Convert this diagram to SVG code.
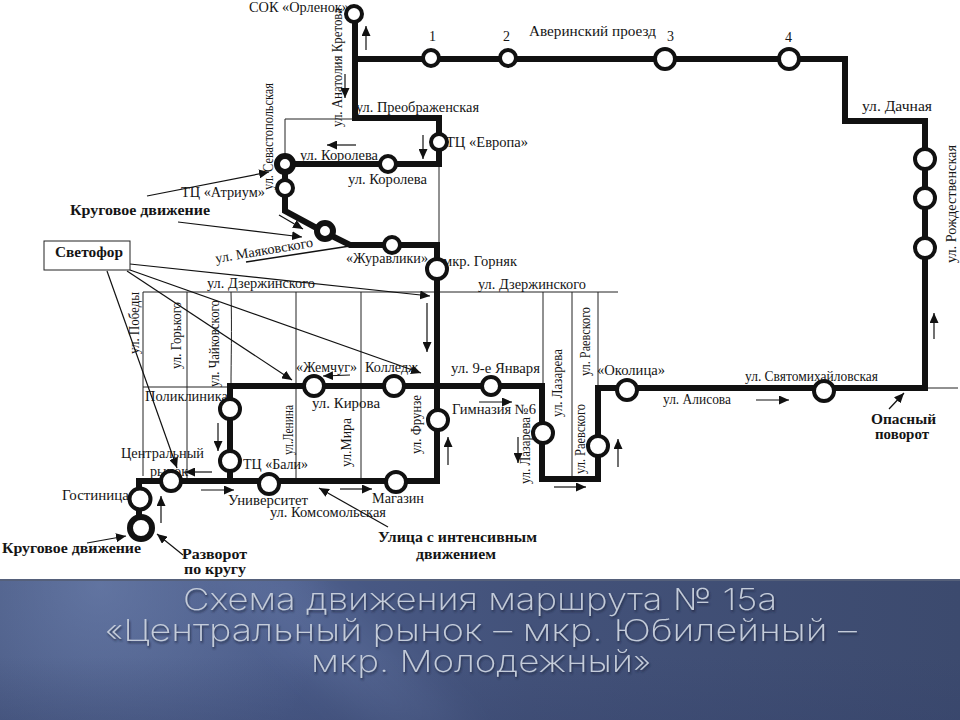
<svg xmlns="http://www.w3.org/2000/svg" width="960" height="720" viewBox="0 0 960 720">
<style>
text{font-family:"Liberation Serif","Noto Serif",serif;font-size:14px;fill:#151515}
.b{font-weight:bold;font-size:14.5px}
.route{fill:none;stroke:#111;stroke-width:6;stroke-linejoin:miter;stroke-linecap:butt}
.thin{fill:none;stroke:#222;stroke-width:1}
.arr{fill:none;stroke:#111;stroke-width:1.2;marker-end:url(#ah)}
.n{fill:#fff;stroke:#111;stroke-width:4}
.k{fill:#fff;stroke:#111;stroke-width:6}
.t{font-family:Inter,"Open Sans","Noto Sans",sans-serif;font-weight:200;font-size:30px;fill:#c4ccda;filter:url(#sh)}
</style>
<defs>
<marker id="ah" markerUnits="userSpaceOnUse" markerWidth="11" markerHeight="9" refX="10" refY="4.5" orient="auto"><path d="M0 0L10 4.5L0 9Z" fill="#111"/></marker>
<linearGradient id="bg" x1="0" y1="0" x2="1" y2="0"><stop offset="0" stop-color="#46567f"/><stop offset=".3" stop-color="#4a5b88"/><stop offset=".55" stop-color="#43527a"/><stop offset="1" stop-color="#3c4a6e"/></linearGradient>
<radialGradient id="gl" gradientUnits="userSpaceOnUse" cx="100" cy="585" r="230"><stop offset="0" stop-color="#7b90bf" stop-opacity=".5"/><stop offset="1" stop-color="#7b90bf" stop-opacity="0"/></radialGradient>
<linearGradient id="fade" x1="0" y1="0" x2="0" y2="1"><stop offset=".55" stop-color="#34416a" stop-opacity="0"/><stop offset="1" stop-color="#34416a" stop-opacity=".3"/></linearGradient>
<filter id="sh" x="-5%" y="-20%" width="110%" height="150%"><feDropShadow dx="1" dy="2" stdDeviation="1" flood-color="#1c2540" flood-opacity=".85"/></filter>
<filter id="bl" x="-50%" y="-50%" width="200%" height="200%"><feGaussianBlur stdDeviation="18"/></filter>
<clipPath id="cb"><rect y="579" width="960" height="141"/></clipPath>
</defs>
<rect width="960" height="720" fill="#fff"/>
<g id="band">
<rect y="579" width="960" height="141" fill="url(#bg)"/>
<rect y="579" width="960" height="141" fill="url(#gl)"/>
<g clip-path="url(#cb)"><path d="M200 560L300 560L480 740L380 740Z" fill="#7b90bf" opacity=".2" filter="url(#bl)"/></g>
<rect y="579" width="960" height="141" fill="url(#fade)"/>
<rect y="579" width="960" height="2" fill="#55607a"/>
<text class="t" x="183" y="610" textLength="594" lengthAdjust="spacingAndGlyphs">Схема движения маршрута № 15а</text>
<text class="t" x="105" y="641" textLength="752" lengthAdjust="spacingAndGlyphs">«Центральный рынок – мкр. Юбилейный –</text>
<text class="t" x="311" y="672" textLength="340" lengthAdjust="spacingAndGlyphs">мкр. Молодежный»</text>
</g>
<g id="streets">
<path class="thin" d="M285 160V119H355M439 164V245M143 292H618M143 292V476M187 292V481M231 292C232 330 231 360 231 386M296 292V481M361 292V481M143 387H228M543 292V386M572 292V479M598 292V388M925 388H958"/>
<path d="M246 262L350 246" fill="none" stroke="#111" stroke-width="1.5"/>
</g>
<g id="connectors">
<path class="route" d="M355 14V118H439V164H285V211L324 232L350 245H437V481H139V528"/>
<path class="route" d="M355 59H845V121H925V388H598V479H542V386H230V481"/>
<path class="arr" d="M366 50V26"/>
<path class="arr" d="M345 74V98"/>
<path class="arr" d="M356 145H327"/>
<path class="arr" d="M423 135V159"/>
<path class="arr" d="M147 196L269 172"/>
<path class="arr" d="M279 215L303 229"/>
<path class="arr" d="M178 222L302 237"/>
<path class="arr" d="M130 264L430 296"/>
<path class="arr" d="M127 271L292 380"/>
<path class="arr" d="M130 270L421 373"/>
<path class="arr" d="M107 271L177 468"/>
<path class="arr" d="M427 303V352"/>
<path class="arr" d="M350 375L323 376"/>
<path class="arr" d="M218 423V451"/>
<path class="arr" d="M212 472H185"/>
<path class="arr" d="M201 490H234"/>
<path class="arr" d="M340 489H372"/>
<path class="arr" d="M388 527L319 488"/>
<path class="arr" d="M448 465V437"/>
<path class="arr" d="M161 523V496"/>
<path class="arr" d="M87 543L126 536"/>
<path class="arr" d="M183 555L157 534"/>
<path class="arr" d="M479 402H512"/>
<path class="arr" d="M518 437V463"/>
<path class="arr" d="M554 487H586"/>
<path class="arr" d="M618 467V439"/>
<path class="arr" d="M756 400H789"/>
<path class="arr" d="M889 409L904 393"/>
<path class="arr" d="M934 339V313"/>
</g>
<g id="n-orlenok"><text x="249" y="12" textLength="100" lengthAdjust="spacingAndGlyphs">СОК «Орленок»</text><circle class="n" cx="354" cy="14" r="8"/></g>
<g id="n-1"><text x="429" y="41">1</text><circle class="n" cx="431" cy="58" r="8"/></g>
<g id="n-2"><text x="503" y="41">2</text><circle class="n" cx="508" cy="58" r="8"/></g>
<g id="n-3"><text x="667" y="41">3</text><circle class="n" cx="665" cy="59" r="10"/></g>
<g id="n-4"><text x="785" y="42">4</text><circle class="n" cx="789" cy="59" r="10"/></g>
<g id="n-evropa"><text x="446" y="147" textLength="82" lengthAdjust="spacingAndGlyphs">ТЦ «Европа»</text><circle class="n" cx="439" cy="142" r="8"/></g>
<g id="n-koroleva"><text x="348" y="184" textLength="79" lengthAdjust="spacingAndGlyphs">ул. Королева</text><circle class="n" cx="388" cy="164" r="8"/></g>
<g id="n-krug1"><circle class="k" cx="285" cy="164" r="8"/></g>
<g id="n-atrium"><text x="181" y="197" textLength="84" lengthAdjust="spacingAndGlyphs">ТЦ «Атриум»</text><circle class="n" cx="285" cy="188" r="8"/></g>
<g id="n-krug2"><circle class="k" cx="325" cy="231" r="8"/></g>
<g id="n-zhuravliki"><text x="346" y="263" textLength="82" lengthAdjust="spacingAndGlyphs">«Журавлики»</text><circle class="n" cx="392" cy="245" r="8"/></g>
<g id="n-gornyak"><text x="443" y="266" textLength="74" lengthAdjust="spacingAndGlyphs">мкр. Горняк</text><circle class="n" cx="437" cy="269" r="10"/></g>
<g id="n-zhemchug"><text x="296" y="372" textLength="61" lengthAdjust="spacingAndGlyphs">«Жемчуг»</text><circle class="n" cx="314" cy="386" r="10"/></g>
<g id="n-college"><text x="365" y="372" textLength="53" lengthAdjust="spacingAndGlyphs">Колледж</text><circle class="n" cx="394" cy="386" r="10"/></g>
<g id="n-poliklinika"><text x="145" y="401" textLength="83" lengthAdjust="spacingAndGlyphs">Поликлиника</text><circle class="n" cx="230" cy="409" r="10"/></g>
<g id="n-bali"><text x="243" y="469" textLength="65" lengthAdjust="spacingAndGlyphs">ТЦ «Бали»</text><circle class="n" cx="230" cy="461" r="10"/></g>
<g id="n-univer"><text x="228" y="505" textLength="80" lengthAdjust="spacingAndGlyphs">Университет</text><circle class="n" cx="269" cy="484" r="10"/></g>
<g id="n-magazin"><text x="372" y="503" textLength="52" lengthAdjust="spacingAndGlyphs">Магазин</text><circle class="n" cx="396" cy="482" r="10"/></g>
<g id="n-rynok"><text x="121" y="458" textLength="83" lengthAdjust="spacingAndGlyphs">Центральный</text><text x="150" y="476" textLength="38" lengthAdjust="spacingAndGlyphs">рынок</text><circle class="n" cx="171" cy="481" r="10"/></g>
<g id="n-gostinitsa"><text x="62" y="500" textLength="67" lengthAdjust="spacingAndGlyphs">Гостиница</text><circle class="n" cx="140" cy="499" r="10.5"/></g>
<g id="n-krug3"><circle class="k" cx="141" cy="528" r="11"/></g>
<g id="n-frunze"><circle class="n" cx="438" cy="420" r="10"/></g>
<g id="n-gymn"><text x="452" y="414" textLength="84" lengthAdjust="spacingAndGlyphs">Гимназия №6</text><circle class="n" cx="491" cy="386" r="9"/></g>
<g id="n-lazareva"><circle class="n" cx="543" cy="433" r="10"/></g>
<g id="n-raevskogo"><circle class="n" cx="598" cy="446" r="10"/></g>
<g id="n-okolitsa"><text x="597" y="375" textLength="68" lengthAdjust="spacingAndGlyphs">«Околица»</text><circle class="n" cx="627" cy="390" r="10"/></g>
<g id="n-svyato"><circle class="n" cx="824" cy="391" r="10"/></g>
<g id="n-r1"><circle class="n" cx="925" cy="159" r="10"/></g>
<g id="n-r2"><circle class="n" cx="925" cy="198" r="10"/></g>
<g id="n-r3"><circle class="n" cx="925" cy="248" r="10"/></g>
<g id="n-svetofor"><rect x="44" y="241" width="86" height="29" fill="#fff" stroke="#222" stroke-width="1"/><text class="b" x="55" y="257" textLength="68" lengthAdjust="spacingAndGlyphs">Светофор</text></g>
<g id="labels">
<text x="529" y="36" textLength="127" lengthAdjust="spacingAndGlyphs">Аверинский проезд</text>
<text x="356" y="112" textLength="123" lengthAdjust="spacingAndGlyphs">ул. Преображенская</text>
<text x="300" y="160" textLength="78" lengthAdjust="spacingAndGlyphs">ул. Королева</text>
<text x="862" y="111" textLength="70" lengthAdjust="spacingAndGlyphs">ул. Дачная</text>
<text x="207" y="288" textLength="108" lengthAdjust="spacingAndGlyphs">ул. Дзержинского</text>
<text x="478" y="289" textLength="108" lengthAdjust="spacingAndGlyphs">ул. Дзержинского</text>
<text x="312" y="408" textLength="68" lengthAdjust="spacingAndGlyphs">ул. Кирова</text>
<text x="270" y="517" textLength="116" lengthAdjust="spacingAndGlyphs">ул. Комсомольская</text>
<text x="451" y="373" textLength="89" lengthAdjust="spacingAndGlyphs">ул. 9-е Января</text>
<text x="663" y="404" textLength="68" lengthAdjust="spacingAndGlyphs">ул. Алисова</text>
<text x="745" y="381" textLength="133" lengthAdjust="spacingAndGlyphs">ул. Святомихайловская</text>
<text transform="translate(342 127) rotate(-90)" textLength="119" lengthAdjust="spacingAndGlyphs">ул. Анатолия Кретова</text>
<text transform="translate(273 190) rotate(-90)" textLength="107" lengthAdjust="spacingAndGlyphs">ул. Севастопольская</text>
<text transform="translate(216 263) rotate(-9.5)" textLength="99" lengthAdjust="spacingAndGlyphs">ул. Маяковского</text>
<text transform="translate(956 263) rotate(-90)" textLength="118" lengthAdjust="spacingAndGlyphs">ул. Рождественская</text>
<text transform="translate(139 354) rotate(-90)" textLength="62" lengthAdjust="spacingAndGlyphs">ул. Победы</text>
<text transform="translate(181 369) rotate(-90)" textLength="67" lengthAdjust="spacingAndGlyphs">ул. Горького</text>
<text transform="translate(219 387) rotate(-90)" textLength="87" lengthAdjust="spacingAndGlyphs">ул. Чайковского</text>
<text transform="translate(293 455) rotate(-90)" textLength="50" lengthAdjust="spacingAndGlyphs">ул.Ленина</text>
<text transform="translate(351 467) rotate(-90)" textLength="49" lengthAdjust="spacingAndGlyphs">ул.Мира</text>
<text transform="translate(421 454) rotate(-90)" textLength="59" lengthAdjust="spacingAndGlyphs">ул. Фрунзе</text>
<text transform="translate(562 417) rotate(-90)" textLength="68" lengthAdjust="spacingAndGlyphs">ул. Лазарева</text>
<text transform="translate(590 376) rotate(-90)" textLength="69" lengthAdjust="spacingAndGlyphs">ул. Раевского</text>
<text transform="translate(530 484) rotate(-90)" textLength="67" lengthAdjust="spacingAndGlyphs">ул. Лазарева</text>
<text transform="translate(585 474) rotate(-90)" textLength="70" lengthAdjust="spacingAndGlyphs">ул. Раевского</text>
<text class="b" x="70" y="215" textLength="140" lengthAdjust="spacingAndGlyphs">Круговое движение</text>
<text class="b" x="2" y="553" textLength="139" lengthAdjust="spacingAndGlyphs">Круговое движение</text>
<text class="b" x="182" y="559" textLength="65" lengthAdjust="spacingAndGlyphs">Разворот</text>
<text class="b" x="184" y="574" textLength="62" lengthAdjust="spacingAndGlyphs">по кругу</text>
<text class="b" x="378" y="542" textLength="159" lengthAdjust="spacingAndGlyphs">Улица с интенсивным</text>
<text class="b" x="416" y="559" textLength="80" lengthAdjust="spacingAndGlyphs">движением</text>
<text class="b" x="871" y="424" textLength="65" lengthAdjust="spacingAndGlyphs">Опасный</text>
<text class="b" x="875" y="439" textLength="54" lengthAdjust="spacingAndGlyphs">поворот</text>
</g>
</svg>
